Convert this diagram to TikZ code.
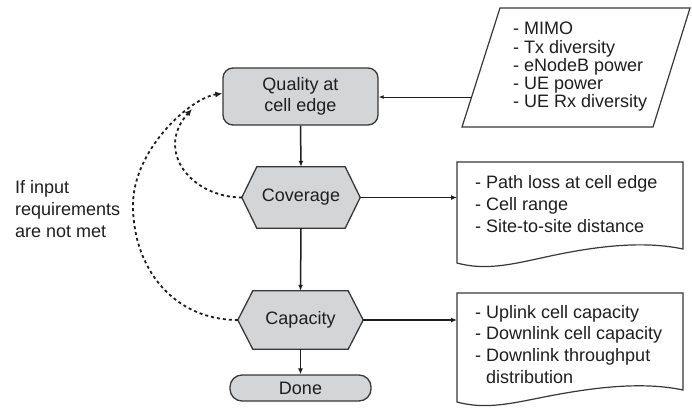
\documentclass[tikz,border=0pt]{standalone}
\usepackage{fontspec}
\setmainfont{Liberation Sans}
\usetikzlibrary{arrows.meta,backgrounds}
\definecolor{boxgray}{RGB}{212,213,215}
\definecolor{edgegray}{RGB}{55,55,55}
\definecolor{inkgray}{RGB}{30,30,30}
\begin{document}
\begin{tikzpicture}[x=1pt,y=-1pt,
  txt/.style={font=\fontsize{18}{21}\selectfont, text=inkgray, inner sep=0pt},
  procbox/.style={txt, draw=edgegray, fill=boxgray, line width=1.3pt, align=center},
  hexframe/.style={draw=edgegray, fill=boxgray, line width=1.3pt},
  outframe/.style={draw=edgegray, fill=white, line width=1.2pt},
  flow/.style={draw=inkgray, line width=1.5pt, -{Latex[length=6pt,width=5pt]}},
  thinflow/.style={draw=inkgray, line width=1pt, -{Latex[length=5pt,width=4pt]}},
  retry/.style={draw=inkgray, line width=1.8pt, dash pattern=on 3pt off 3pt, -{Latex[length=7pt,width=6pt]}}
]
\useasboundingbox (0,0) rectangle (692,410);

% ---- main flow ----
\node[procbox, rounded corners=10pt, minimum width=155pt, minimum height=57pt]
  (qual) at (300.5,96.5) {Quality at\\cell edge};
\node[txt, minimum width=118pt, minimum height=61pt] (cov) at (301,197.5) {Coverage};
\node[txt, minimum width=125pt, minimum height=58pt] (cap) at (300.5,320) {Capacity};
\node[procbox, rounded corners=12pt, minimum width=141pt, minimum height=26pt]
  (done) at (300.5,388) {Done};

\begin{scope}[on background layer]
  \foreach \h in {cov,cap}
    \draw[hexframe] (\h.west) -- ([xshift=15pt]\h.north west) -- ([xshift=-15pt]\h.north east)
      -- (\h.east) -- ([xshift=-15pt]\h.south east) -- ([xshift=15pt]\h.south west) -- cycle;
\end{scope}

\draw[flow] (qual.south) -- (cov.north);
\draw[flow] (cov.south) -- (cap.north);
\draw[flow] (cap.south) -- (done.north);

% ---- inputs (parallelogram) ----
\draw[outframe] (462,127) -- (500,8) -- (690,8) -- (653,127) -- cycle;
\node[txt, align=left, anchor=north west,
  font=\fontsize{18}{18.3}\selectfont] (inputs) at (513,22)
  {- MIMO\\- Tx diversity\\- eNodeB power\\- UE power\\- UE Rx diversity};
\coordinate (inedge) at (471.5,97);
\draw[thinflow] (inedge) -- (inedge -| qual.east);

% ---- outputs (documents) ----
\draw[outframe] (457,162) -- (683,162) -- (683,249)
  .. controls (650,242) and (610,244) .. (560,254)
  .. controls (520,262) and (490,272) .. (457,263) -- cycle;
\node[txt, align=left, anchor=north west,
  font=\fontsize{18}{22}\selectfont] (covout) at (475,175)
  {- Path loss at cell edge\\- Cell range\\- Site-to-site distance};
\coordinate (covin) at (457,197);
\draw[flow] (cov.east) -- (cov.east -| covin);

\draw[outframe] (457,293) -- (683,293) -- (683,390)
  .. controls (650,383) and (610,385) .. (560,394)
  .. controls (520,401) and (490,411) .. (457,402) -- cycle;
\node[txt, align=left, anchor=north west,
  font=\fontsize{18}{21.7}\selectfont] (capout) at (475,305)
  {- Uplink cell capacity\\- Downlink cell capacity\\- Downlink throughput\\\hphantom{- }distribution};
\coordinate (capin) at (457,321);
\draw[flow] (cap.east) -- (cap.east -| capin);

% ---- feedback loops ----
\node[txt, align=left, anchor=north west,
  font=\fontsize{18}{22}\selectfont] (note) at (15,180)
  {If input\\requirements\\are not met};
\coordinate (loopend) at (192,109);
\draw[retry] (cov.west) .. controls (190,197) and (155,150) .. (loopend);
\draw[retry] (cap.west) .. controls (175,320) and (133,270) .. (133,205)
  .. controls (133,150) and (190,98) .. ([yshift=3pt]qual.west);
\end{tikzpicture}
\end{document}
